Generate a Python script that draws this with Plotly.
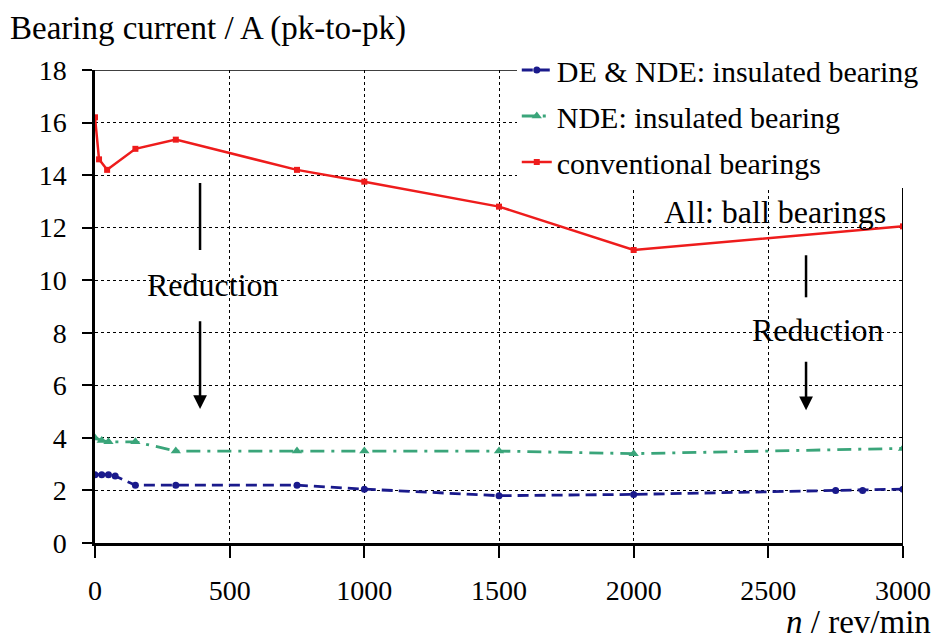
import plotly.graph_objects as go

FONT = "Liberation Serif, Times New Roman, serif"

# speed n / rev/min and bearing current / A (pk-to-pk)
speed_conv = [0, 15, 45, 150, 300, 750, 1000, 1500, 2000, 3000]
current_conv = [16.2, 14.6, 14.2, 15.0, 15.35, 14.2, 13.75, 12.8, 11.15, 12.05]

speed_nde = [0, 25, 50, 150, 300, 750, 1000, 1500, 2000, 3000]
current_nde = [4.0, 3.9, 3.85, 3.85, 3.5, 3.5, 3.5, 3.5, 3.4, 3.6]

speed_de_nde = [0, 25, 50, 75, 150, 300, 750, 1000, 1500, 2000, 2750, 2850, 3000]
current_de_nde = [2.6, 2.6, 2.6, 2.55, 2.2, 2.2, 2.2, 2.05, 1.8, 1.85, 2.0, 2.0, 2.05]

x_ticks = [0, 500, 1000, 1500, 2000, 2500, 3000]
y_ticks = [0, 2, 4, 6, 8, 10, 12, 14, 16, 18]

fig = go.Figure()

fig.add_trace(
    go.Scatter(
        name="DE & NDE: insulated bearing",
        x=speed_de_nde,
        y=current_de_nde,
        mode="lines+markers",
        line=dict(color="#1a1a8c", width=2.8, dash="11px,6px"),
        marker=dict(symbol="circle", size=7, color="#1a1a8c"),
        legendgroup="a",
    )
)
fig.add_trace(
    go.Scatter(
        name="NDE: insulated bearing",
        x=speed_nde,
        y=current_nde,
        mode="lines+markers",
        line=dict(color="#3aa57a", width=2.8, dash="14px,7px,3px,7px"),
        marker=dict(symbol="triangle-up", size=9, color="#3aa57a"),
        legendgroup="b",
    )
)
fig.add_trace(
    go.Scatter(
        name="conventional bearings",
        x=speed_conv,
        y=current_conv,
        mode="lines+markers",
        line=dict(color="#ee1c1c", width=2.5),
        marker=dict(symbol="square", size=6, color="#ee1c1c"),
        legendgroup="c",
    )
)

# "Reduction" arrows
for x, top, bottom in [(390, 13.7, 11.15), (2640, 10.95, 9.35)]:
    fig.add_shape(type="line", x0=x, x1=x, y0=top, y1=bottom,
                  line=dict(color="black", width=2.5))
for x, tail, head in [(390, 8.5, 5.1), (2640, 6.95, 5.05)]:
    fig.add_annotation(x=x, y=head, ax=x, ay=tail, xref="x", yref="y",
                       axref="x", ayref="y", text="", showarrow=True,
                       arrowhead=2, arrowsize=1.1, arrowwidth=2.5, arrowcolor="black")
for x, y in [(438, 9.8), (2685, 8.1)]:
    fig.add_annotation(x=x, y=y, text="Reduction", showarrow=False,
                       font=dict(family=FONT, size=32, color="black"))

fig.add_annotation(x=2525, y=12.6, text="All: ball bearings", showarrow=False,
                   font=dict(family=FONT, size=32, color="black"))

fig.add_annotation(
    x=-0.108, y=1.088, xref="paper", yref="paper", xanchor="left", yanchor="middle",
    text="Bearing current / A (pk-to-pk)", showarrow=False,
    font=dict(family=FONT, size=33, color="black"),
)
fig.add_annotation(
    x=1.037, y=-0.168, xref="paper", yref="paper", xanchor="right", yanchor="middle",
    text="<i>n</i> / rev/min", showarrow=False,
    font=dict(family=FONT, size=33, color="black"),
)

fig.update_layout(
    width=935,
    height=641,
    margin=dict(l=95, r=32, t=70, b=98, autoexpand=False),
    paper_bgcolor="white",
    plot_bgcolor="white",
    font=dict(family=FONT, size=28, color="black"),
    showlegend=True,
    legend=dict(
        x=0.522, y=1.055, xanchor="left", yanchor="top",
        bgcolor="white", tracegroupgap=4,
        font=dict(family=FONT, size=30, color="black"),
    ),
    xaxis=dict(
        range=[0, 3000], tickvals=x_ticks, ticks="outside", ticklen=12,
        tickwidth=2, tickcolor="black", showline=True, linecolor="black",
        linewidth=2.5, mirror=False, showgrid=True, gridcolor="black",
        griddash="dot", gridwidth=1, zeroline=False, ticklabelstandoff=9,
        tickfont=dict(family=FONT, size=28),
    ),
    yaxis=dict(
        range=[0, 18], tickvals=y_ticks, ticks="outside", ticklen=10,
        tickwidth=2, tickcolor="black", showline=True, linecolor="black",
        linewidth=2.5, showgrid=True, gridcolor="black", griddash="dot",
        gridwidth=1, zeroline=False, ticklabelstandoff=10,
        tickfont=dict(family=FONT, size=28),
    ),
)
fig.add_shape(type="line", xref="x", yref="paper", x0=3000, x1=3000, y0=0, y1=1,
              line=dict(color="black", width=2))
fig.add_shape(type="line", xref="paper", yref="y", x0=0, x1=1, y0=18, y1=18,
              line=dict(color="black", width=1.5))

# drop the default page margin so the 935x641 figure fills the window exactly
fig.write_html(
    "out.html",
    config={"displayModeBar": False},
    post_script="document.body.style.margin='0px';",
)
